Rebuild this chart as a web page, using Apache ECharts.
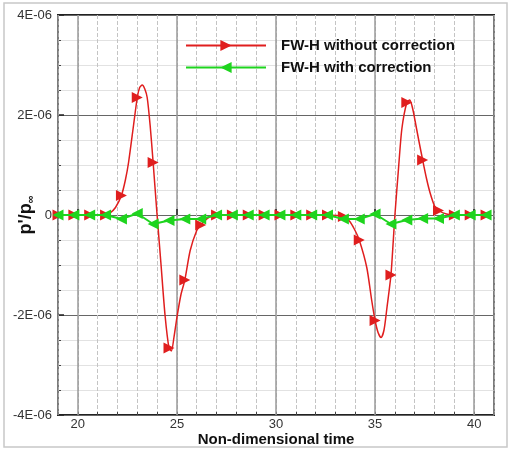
<!DOCTYPE html>
<html lang="en">
<head>
    <meta charset="UTF-8">
    <title>FW-H</title>
    <script src="https://cdn.jsdelivr.net/npm/echarts@6/dist/echarts.min.js"></script>
    <style>
        body { margin: 0; background: #fff; }
    </style>
</head>
<body>
<div id='box' style="width: 514px;height:452px;"></div>
<script>
    // values are in units of 1E-06
    var markerTimes = [19.0, 19.8, 20.6, 21.4, 22.2, 23.0, 23.8, 24.6, 25.4, 26.2, 27.0, 27.8, 28.6, 29.4,
        30.2, 31.0, 31.8, 32.6, 33.4, 34.2, 35.0, 35.8, 36.6, 37.4, 38.2, 39.0, 39.8, 40.6];

    var redTimes = [19.0, 19.8, 20.6, 21.4, 21.6, 21.9, 22.2, 22.4, 22.56, 22.81, 23.0, 23.12, 23.25, 23.38, 23.5,
        23.65, 23.8, 24.0, 24.2, 24.4, 24.6, 24.72, 24.85, 25.0, 25.2, 25.4, 25.67, 26.0, 26.2, 26.6,
        27.0, 27.8, 28.6, 29.4, 30.2, 31.0, 31.8, 32.6, 33.4, 33.7, 33.95, 34.2, 34.58, 34.83, 35.0,
        35.15, 35.3, 35.45, 35.6, 35.8, 35.92, 36.0, 36.18, 36.35, 36.6, 36.75, 36.9, 37.0, 37.2, 37.4,
        37.6, 37.77, 38.0, 38.2, 38.6, 39.0, 39.8, 40.6];
    var redValues = [0, 0, 0, 0, 0.03, 0.15, 0.39, 0.7, 1.05, 1.79, 2.35, 2.55, 2.6, 2.52, 2.35,
        1.79, 1.05, 0.0, -1.0, -2.0, -2.66, -2.72, -2.45, -2.05, -1.6, -1.3, -0.71, -0.31, -0.2, -0.05,
        0, 0, 0, 0, 0, 0, 0, 0, -0.03, -0.12, -0.28, -0.5, -1.05, -1.71, -2.11,
        -2.35, -2.45, -2.3, -1.85, -1.2, -0.5, 0, 0.92, 1.72, 2.25, 2.3, 2.12, 1.92, 1.5, 1.1,
        0.72, 0.45, 0.18, 0.09, 0.02, 0, 0, 0];

    var greenValues = [0, 0, 0, 0, -0.08, 0.03, -0.18, -0.11, -0.08, -0.08, 0, 0, 0, 0,
        0, 0, 0, 0, -0.08, -0.08, 0.02, -0.18, -0.1, -0.07, -0.07, 0, 0, 0];

    var yTicks = [-4, -2, 0, 2, 4];

    var myChart = echarts.init(document.getElementById('box'));

    var redData = redTimes.map(function (t, i) {
        return {
            value: [t, redValues[i]],
            symbol: markerTimes.indexOf(t) >= 0 ? 'triangle' : 'none'
        };
    });
    var greenData = markerTimes.map(function (t, i) {
        return [t, greenValues[i]];
    });

    var font = 'Liberation Sans, Arial, sans-serif';

    var option = {
        animation: false,
        textStyle: {fontFamily: font},
        graphic: [{
            type: 'rect',
            shape: {x: 4, y: 3, width: 503, height: 444},
            style: {fill: 'none', stroke: '#c8c8c8', lineWidth: 1.5},
            z: -1
        }],
        grid: {
            left: 58,
            right: 20,
            top: 15,
            bottom: 37,
            outerBoundsMode: 'none',
            containLabel: false,
            show: true,
            borderColor: '#222',
            borderWidth: 2
        },
        legend: {
            orient: 'vertical',
            left: 180,
            top: 33,
            itemWidth: 80,
            itemHeight: 14,
            itemGap: 7,
            data: ['FW-H without correction', 'FW-H with correction'],
            textStyle: {
                fontFamily: font,
                fontWeight: 'bold',
                fontSize: 15,
                color: '#111',
                padding: [0, 0, 0, 10]
            }
        },
        xAxis: [
            {
                // main axis: labels + major grid every 5
                type: 'value',
                min: 19,
                max: 41,
                splitNumber: 5,
                name: 'Non-dimensional time',
                nameLocation: 'middle',
                nameGap: 17,
                nameMoveOverlap: false,
                nameTextStyle: {fontFamily: font, fontWeight: 'bold', fontSize: 15, color: '#111'},
                axisLine: {show: false},
                axisTick: {inside: true, length: 6, lineStyle: {color: '#222', width: 1.5}},
                axisLabel: {
                    showMinLabel: false,
                    showMaxLabel: false,
                    margin: 3,
                    fontSize: 13,
                    color: '#333'
                },
                splitLine: {show: true, lineStyle: {color: '#9a9a9a', width: 1.5}},
                z: 2
            },
            {
                // minor grid every 1
                type: 'value',
                position: 'bottom',
                min: 19,
                max: 41,
                interval: 1,
                axisLine: {show: false},
                axisTick: {inside: true, length: 3, lineStyle: {color: '#444'}},
                axisLabel: {show: false},
                splitLine: {show: true, lineStyle: {color: '#c4c4c4', type: 'dashed', width: 1}},
                z: 1
            }
        ],
        yAxis: {
            type: 'value',
            min: yTicks[0],
            max: yTicks[yTicks.length - 1],
            interval: 2,
            name: "{a|p'/p}{b|∞}",
            nameLocation: 'middle',
            nameRotate: 90,
            nameGap: 22,
            nameMoveOverlap: false,
            nameTextStyle: {
                rich: {
                    a: {fontFamily: font, fontWeight: 'bold', fontSize: 18, color: '#111'},
                    b: {fontFamily: font, fontWeight: 'bold', fontSize: 11, color: '#111', padding: [8, 0, 0, 0]}
                }
            },
            axisLine: {show: false},
            axisTick: {inside: true, length: 6, lineStyle: {color: '#222', width: 1.5}},
            minorTick: {show: true, splitNumber: 4, length: 3, lineStyle: {color: '#444'}},
            axisLabel: {
                margin: 6,
                fontSize: 13,
                color: '#333',
                formatter: function (v) {
                    return v === 0 ? '0' : v + 'E-06';
                }
            },
            splitLine: {show: true, lineStyle: {color: '#666', width: 1}},
            minorSplitLine: {show: true, lineStyle: {color: '#e2e2e2', width: 1}}
        },
        series: [
            {
                name: 'FW-H without correction',
                type: 'line',
                data: redData,
                smooth: 0.25,
                symbol: 'triangle',
                symbolSize: 11,
                symbolRotate: -90,
                showAllSymbol: true,
                color: '#e01e1e',
                lineStyle: {width: 1.5, color: '#e01e1e'},
                itemStyle: {color: '#e01e1e'},
                z: 2
            },
            {
                name: 'FW-H with correction',
                type: 'line',
                data: greenData,
                symbol: 'triangle',
                symbolSize: 11,
                symbolRotate: 90,
                showAllSymbol: true,
                color: '#1ed41e',
                lineStyle: {width: 2, color: '#1ed41e'},
                itemStyle: {color: '#1ed41e'},
                z: 3
            }
        ]
    };
    myChart.setOption(option);
</script>
</body>
</html>
